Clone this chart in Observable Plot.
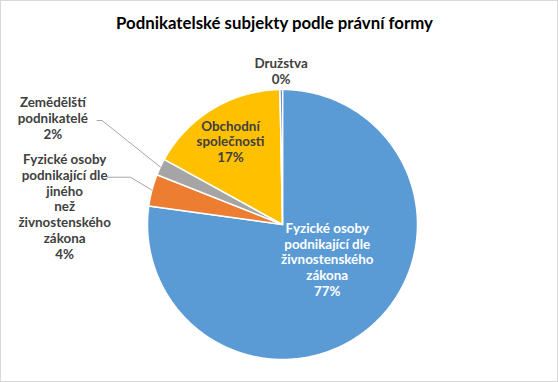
<!DOCTYPE html>
<html><head><meta charset="utf-8">
<script src="https://cdn.jsdelivr.net/npm/d3@7"></script>
<script src="https://cdn.jsdelivr.net/npm/@observablehq/plot@0.6"></script>
<style>
body{margin:0;background:#fff}
#chart{width:558px;height:382px;box-sizing:border-box;border:1px solid #d9d9d9;background:#fff;font-family:Lato,"Open Sans",sans-serif;overflow:hidden}
#title{height:44px;line-height:44px;text-align:center;font-size:16.8px;font-weight:bold;color:#000;padding-right:9px}
#chart svg{display:block}
</style></head>
<body><div id="chart"><div id="title">Podnikatelské subjekty podle právní formy</div></div>
<script>
const categories = [
  "Fyzické osoby podnikající dle živnostenského zákona",
  "Fyzické osoby podnikající dle jiného než živnostenského zákona",
  "Zemědělští podnikatelé",
  "Obchodní společnosti",
  "Družstva"
];
const shares = [77.2, 3.8, 2.0, 16.7, 0.3];
const percentLabels = ["77%", "4%", "2%", "17%", "0%"];
const labelLines = [
  ["Fyzické osoby", "podnikající dle", "živnostenského", "zákona"],
  ["Fyzické osoby", "podnikající dle", "jiného", "než", "živnostenského", "zákona"],
  ["Zemědělští", "podnikatelé"],
  ["Obchodní", "společnosti"],
  ["Družstva"]
];
const colors = ["#5B9BD5", "#ED7D31", "#A5A5A5", "#FFC000", "#4472C4"];

// layout
const W = 556, H = 336, CX = 281, CY = 179, R = 135;
const labelLayout = [
  {r: 0.42, dx: 7.5, dy: -8, fill: "#ffffff"},
  {r: 1.6, dx: -9, dy: 36.8, fill: "#404040"},
  {r: 1.88, dx: 0, dy: 1.3, fill: "#404040"},
  {r: 0.72, dx: -1.7, dy: 0, fill: "#404040"},
  {r: 1.14, dx: 0, dy: 0, fill: "#404040"}
];
const leaderLayout = {
  1: [[-44.8, -12.9], [-21.5, -12.9], [0, 0]],
  2: [[-63.3, -46.5], [-58.3, -46.5], [0, 0]]
};

const arcs = d3.pie().sort(null).value(d => d)(shares);
const slices = [];
arcs.forEach((a, i) => {
  const n = Math.max(2, Math.ceil((a.endAngle - a.startAngle) / 0.01));
  slices.push({cat: categories[i], x: 0, y: 0});
  for (let k = 0; k <= n; k++) {
    const t = a.startAngle + (a.endAngle - a.startAngle) * k / n;
    slices.push({cat: categories[i], x: Math.sin(t), y: Math.cos(t)});
  }
  slices.push({cat: categories[i], x: 0, y: 0});
});

const labels = arcs.map((a, i) => {
  const m = (a.startAngle + a.endAngle) / 2;
  const L = labelLayout[i];
  return {cat: categories[i], x: Math.sin(m) * L.r, y: Math.cos(m) * L.r,
    text: [...labelLines[i], percentLabels[i]].join("\n"), dx: L.dx, dy: L.dy, fill: L.fill};
});

const leaders = [];
Object.entries(leaderLayout).forEach(([i, pts]) => {
  const a = arcs[+i];
  const m = (a.startAngle + a.endAngle) / 2;
  const ex = Math.sin(m), ey = Math.cos(m);
  pts.forEach(([ox, oy]) => leaders.push({cat: categories[+i], x: ex + ox / R, y: ey - oy / R}));
});

const textMarks = labels.map(l => Plot.text([l], {
  x: "x", y: "y", text: "text", dx: l.dx, dy: l.dy, fill: l.fill,
  fontSize: 13.4, fontWeight: "bold", lineHeight: 1.18, fontFamily: "Lato, sans-serif"
}));

const plot = Plot.plot({
  width: W, height: H,
  margin: 0,
  x: {domain: [-1, 1], range: [CX - R, CX + R], axis: null},
  y: {domain: [-1, 1], range: [CY + R, CY - R], axis: null},
  color: {domain: categories, range: colors},
  style: {background: "transparent", overflow: "visible"},
  marks: [
    Plot.line(slices, {x: "x", y: "y", z: "cat", fill: "cat", stroke: "#ffffff", strokeWidth: 1.5, strokeLinejoin: "round", curve: "linear"}),
    Plot.line(leaders, {x: "x", y: "y", z: "cat", stroke: "#a6a6a6", strokeWidth: 1}),
    ...textMarks
  ]
});
document.getElementById("chart").appendChild(plot);
</script>
</body></html>
